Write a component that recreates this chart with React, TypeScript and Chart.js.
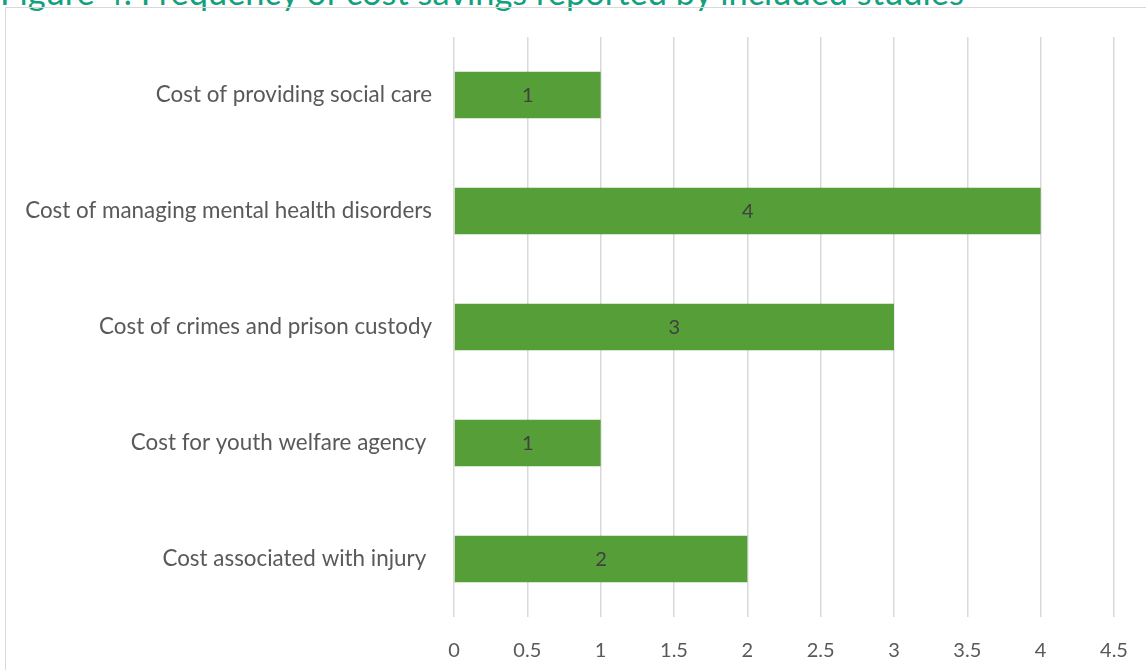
import React, { useEffect, useRef } from "react";
import { Chart, registerables } from "chart.js";

Chart.register(...registerables);

const titleText = "Figure 4: Frequency of cost savings reported by included studies";
const categories = [
  "Cost of providing social care",
  "Cost of managing mental health disorders",
  "Cost of crimes and prison custody",
  "Cost for youth welfare agency ",
  "Cost associated with injury ",
];
const studyCounts = [1, 4, 3, 1, 2];
const xTicks = [0, 0.5, 1, 1.5, 2, 2.5, 3, 3.5, 4, 4.5];

const FONT = "Lato, 'Open Sans', sans-serif";

const valueLabels = {
  id: "valueLabels",
  afterDatasetsDraw(chart: any) {
    const ctx = chart.ctx;
    const meta = chart.getDatasetMeta(0);
    const data = chart.data.datasets[0].data;
    ctx.save();
    ctx.fillStyle = "#404040";
    ctx.font = `20px ${FONT}`;
    ctx.textAlign = "center";
    ctx.textBaseline = "middle";
    meta.data.forEach((bar: any, i: number) => {
      const x = (bar.x + bar.base) / 2;
      ctx.fillText(String(data[i]), x, bar.y + 1);
    });
    ctx.restore();
  },
};

export default function App() {
  const ref = useRef<HTMLCanvasElement>(null);
  useEffect(() => {
    document.body.style.margin = "0";
    const chart = new Chart(ref.current!, {
      type: "bar",
      data: {
        labels: categories,
        datasets: [
          {
            data: studyCounts,
            backgroundColor: "#559E38",
            borderWidth: 0,
            barPercentage: 0.8,
            categoryPercentage: 0.5,
          },
        ],
      },
      options: {
        indexAxis: "y",
        animation: false,
        responsive: false,
        maintainAspectRatio: false,
        layout: { padding: { top: 37, right: 32, left: 0, bottom: 0 } },
        plugins: {
          legend: { display: false },
          tooltip: { enabled: false },
          title: { display: false },
        },
        scales: {
          x: {
            type: "linear",
            min: 0,
            max: 4.5,
            afterBuildTicks(scale: any) {
              scale.ticks = xTicks.map((v) => ({ value: v }));
            },
            afterFit(scale: any) {
              scale.height = 53;
              scale.paddingLeft = 0;
              scale.paddingRight = 0;
            },
            grid: { color: "#d9d9d9", lineWidth: 1.5, drawTicks: false },
            border: { display: false },
            ticks: {
              color: "#595959",
              font: { family: FONT, size: 20 },
              padding: 22,
              callback: (v: any) => String(v),
            },
          },
          y: {
            afterFit(scale: any) {
              scale.width = 454;
            },
            grid: { display: false, drawTicks: false },
            border: { display: false },
            ticks: {
              color: "#595959",
              font: { family: FONT, size: 22.4 },
              padding: 22,
            },
          },
        },
      },
      plugins: [valueLabels],
    });
    return () => chart.destroy();
  }, []);

  return (
    <div style={{ position: "relative", width: 1146, height: 670, overflow: "hidden", background: "#fff" }}>
      <div
        style={{
          position: "absolute",
          left: 0,
          top: -28,
          fontFamily: FONT,
          fontSize: 34.4,
          lineHeight: "40px",
          color: "#12A07E",
          whiteSpace: "nowrap",
        }}
      >
        {titleText}
      </div>
      <div
        style={{
          position: "absolute",
          left: 5,
          top: 7,
          width: 1200,
          height: 700,
          border: "1px solid #d9d9d9",
        }}
      />
      <canvas ref={ref} width={1146} height={670} style={{ position: "absolute", left: 0, top: 0 }} />
    </div>
  );
}
